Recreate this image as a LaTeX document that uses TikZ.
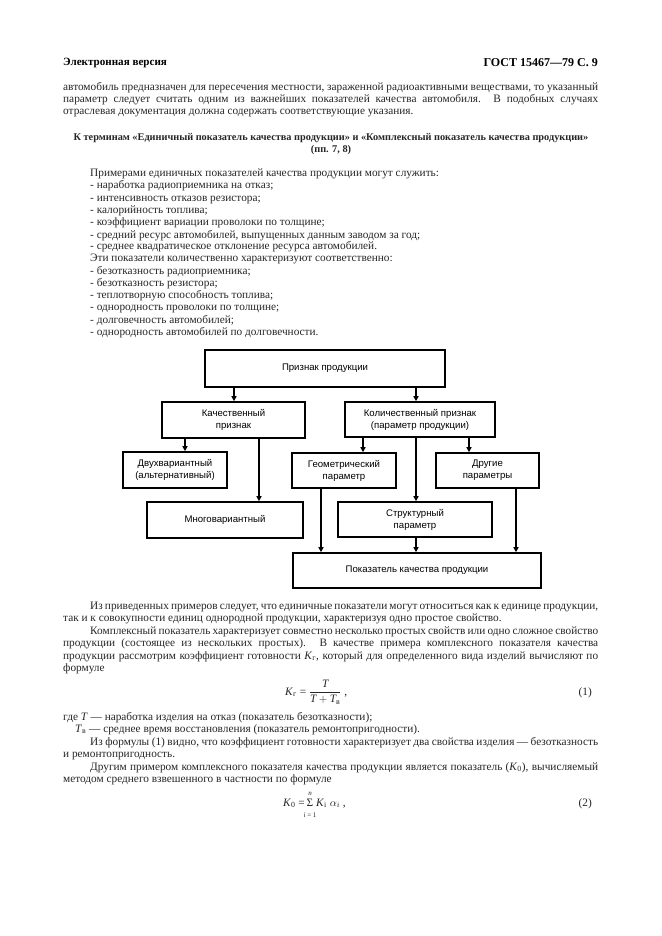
\documentclass[tikz,border=0pt]{standalone}
\usepackage{fontspec}
\usepackage{amsmath}
\setmainfont{Liberation Serif}
\newfontfamily\diagfont{Liberation Sans}
\usetikzlibrary{arrows.meta}
\newcommand\mytl[4]{\node[txt,anchor=base west] (#1) at (#2,#3) {#4};}
\newcommand\myjl[5]{\node[txt,anchor=base west] (#1) at (#2,#3) {\makebox[#4pt][s]{#5}};}
\begin{document}
\begin{tikzpicture}[x=1pt,y=-1pt,
  txt/.style={inner sep=0pt,font=\fontsize{11.3}{12.2}\selectfont,text=black!85},
  lim/.style={inner sep=0pt,anchor=base,font=\fontsize{7}{8}\selectfont,text=black!85},
  box/.style={draw,line width=1.6pt,inner sep=0pt,align=center,font=\diagfont\fontsize{9.6}{12}\selectfont},
  arr/.style={line width=1.3pt,-{Triangle[length=5pt,width=5pt]}}]
\useasboundingbox[fill=white] (0,0) rectangle (661,936);
% header
\node[inner sep=0pt,anchor=base west,font=\bfseries\fontsize{11.1}{12}\selectfont] (h1) at (63,66) {Электронная версия};
\node[inner sep=0pt,anchor=base east,font=\bfseries\fontsize{12}{14}\selectfont] (h2) at (598,67) {ГОСТ 15467—79 С. 9};
% paragraph 1
\myjl{a1}{63}{91}{535}{автомобиль предназначен для пересечения местности, зараженной радиоактивными веществами, то указанный}
\myjl{a2}{63}{103}{535}{параметр следует считать одним из важнейших показателей качества автомобиля. В подобных случаях}
\mytl{a3}{63}{115}{отраслевая документация должна содержать соответствующие указания.}
% heading
\node[txt,anchor=base,font=\bfseries\fontsize{10.3}{12}\selectfont] (t1) at (331,141) {К терминам «Единичный показатель качества продукции» и «Комплексный показатель качества продукции»};
\node[txt,anchor=base,font=\bfseries\fontsize{10.3}{12}\selectfont] (t2) at (331,153) {(пп. 7, 8)};
% list
\mytl{b0}{90}{176}{Примерами единичных показателей качества продукции могут служить:}
\mytl{b1}{90}{189}{- наработка радиоприемника на отказ;}
\mytl{b2}{90}{201}{- интенсивность отказов резистора;}
\mytl{b3}{90}{213}{- калорийность топлива;}
\mytl{b4}{90}{225}{- коэффициент вариации проволоки по толщине;}
\mytl{b5}{90}{238}{- средний ресурс автомобилей, выпущенных данным заводом за год;}
\mytl{b6}{90}{249}{- среднее квадратическое отклонение ресурса автомобилей.}
\mytl{b7}{90}{261}{Эти показатели количественно характеризуют соответственно:}
\mytl{b8}{90}{274}{- безотказность радиоприемника;}
\mytl{b9}{90}{286}{- безотказность резистора;}
\mytl{b10}{90}{298}{- теплотворную способность топлива;}
\mytl{b11}{90}{310}{- однородность проволоки по толщине;}
\mytl{b12}{90}{323}{- долговечность автомобилей;}
\mytl{b13}{90}{335}{- однородность автомобилей по долговечности.}
% diagram
\node[box,minimum width=240pt,minimum height=37pt] (top) at (325,368.5) {Признак продукции};
\node[box,minimum width=143pt,minimum height=36pt] (kach) at (233.5,420) {Качественный\\признак};
\node[box,minimum width=150pt,minimum height=35pt] (kol) at (420,419.5) {Количественный признак\\(параметр продукции)};
\node[box,minimum width=104pt,minimum height=36pt] (dvuh) at (175,470) {Двухвариантный\\(альтернативный)};
\node[box,minimum width=156pt,minimum height=36pt] (mnogo) at (225,520) {Многовариантный};
\node[box,minimum width=104pt,minimum height=35pt] (geom) at (344,470.5) {Геометрический\\параметр};
\node[box,minimum width=103pt,minimum height=35pt] (drug) at (487.5,470.5) {Другие\\параметры};
\node[box,minimum width=154pt,minimum height=35pt] (strukt) at (415,519.5) {Структурный\\параметр};
\node[box,minimum width=248pt,minimum height=35pt] (pokaz) at (417,570.5) {Показатель качества продукции};
\coordinate (x185) at (185,0);
\coordinate (x234) at (234,0);
\coordinate (x259) at (259,0);
\coordinate (x321) at (321,0);
\coordinate (x363) at (363,0);
\coordinate (x416) at (416,0);
\coordinate (x469) at (469,0);
\coordinate (x516) at (516,0);
\draw[arr] (top.south -| x234) -- (kach.north -| x234);
\draw[arr] (top.south -| x416) -- (kol.north -| x416);
\draw[arr] (kach.south -| x185) -- (dvuh.north -| x185);
\draw[arr] (kach.south -| x259) -- (mnogo.north -| x259);
\draw[arr] (kol.south -| x363) -- (geom.north -| x363);
\draw[arr] (kol.south -| x416) -- (strukt.north -| x416);
\draw[arr] (kol.south -| x469) -- (drug.north -| x469);
\draw[arr] (geom.south -| x321) -- (pokaz.north -| x321);
\draw[arr] (strukt.south -| x416) -- (pokaz.north -| x416);
\draw[arr] (drug.south -| x516) -- (pokaz.north -| x516);
% after diagram
\myjl{c1}{90}{609}{508}{Из приведенных примеров следует, что единичные показатели могут относиться как к единице продукции,}
\mytl{c2}{63}{621}{так и к совокупности единиц однородной продукции, характеризуя одно простое свойство.}
\myjl{c3}{90}{634}{508}{Комплексный показатель характеризует совместно несколько простых свойств или одно сложное свойство}
\myjl{c4}{63}{646}{535}{продукции (состоящее из нескольких простых). В качестве примера комплексного показателя качества}
\myjl{c5}{63}{659}{535}{продукции рассмотрим коэффициент готовности \textit{K}\textsubscript{г}, который для определенного вида изделий вычисляют по}
\mytl{c6}{63}{671}{формуле}
\node[txt,anchor=base west] (f1) at (285,695) {\textit{K}\textsubscript{г} = $\dfrac{\textit{T}}{\textit{T} + \textit{T}_{\text{в}}}$ ,};
\node[txt,anchor=base east] (n1) at (592,695) {(1)};
\mytl{d1}{63}{720}{где \textit{T} — наработка изделия на отказ (показатель безотказности);}
\mytl{d2}{75}{732}{\textit{T}\textsubscript{в} — среднее время восстановления (показатель ремонтопригодности).}
\myjl{d3}{90}{745}{508}{Из формулы (1) видно, что коэффициент готовности характеризует два свойства изделия — безотказность}
\mytl{d4}{63}{757}{и ремонтопригодность.}
\myjl{d5}{90}{770}{508}{Другим примером комплексного показателя качества продукции является показатель (\textit{K}\textsubscript{0}), вычисляемый}
\mytl{d6}{63}{782}{методом среднего взвешенного в частности по формуле}
\node[txt,anchor=base east] (f2) at (305,806) {\textit{K}\textsubscript{0} =};
\node[txt,anchor=base] (f2s) at (310,806) {Σ};
\node[lim,font=\fontsize{7}{8}\selectfont\itshape] (f2n) at (f2s.north |- 0,795) {n};
\node[lim] (f2i) at (f2s.north |- 0,817) {\textit{i} = 1};
\node[txt,anchor=base west] (f2k) at (316,806) {\textit{K}\textsubscript{i} $\alpha_{i}$ ,};
\node[txt,anchor=base east] (n2) at (592,806) {(2)};
\end{tikzpicture}
\end{document}
